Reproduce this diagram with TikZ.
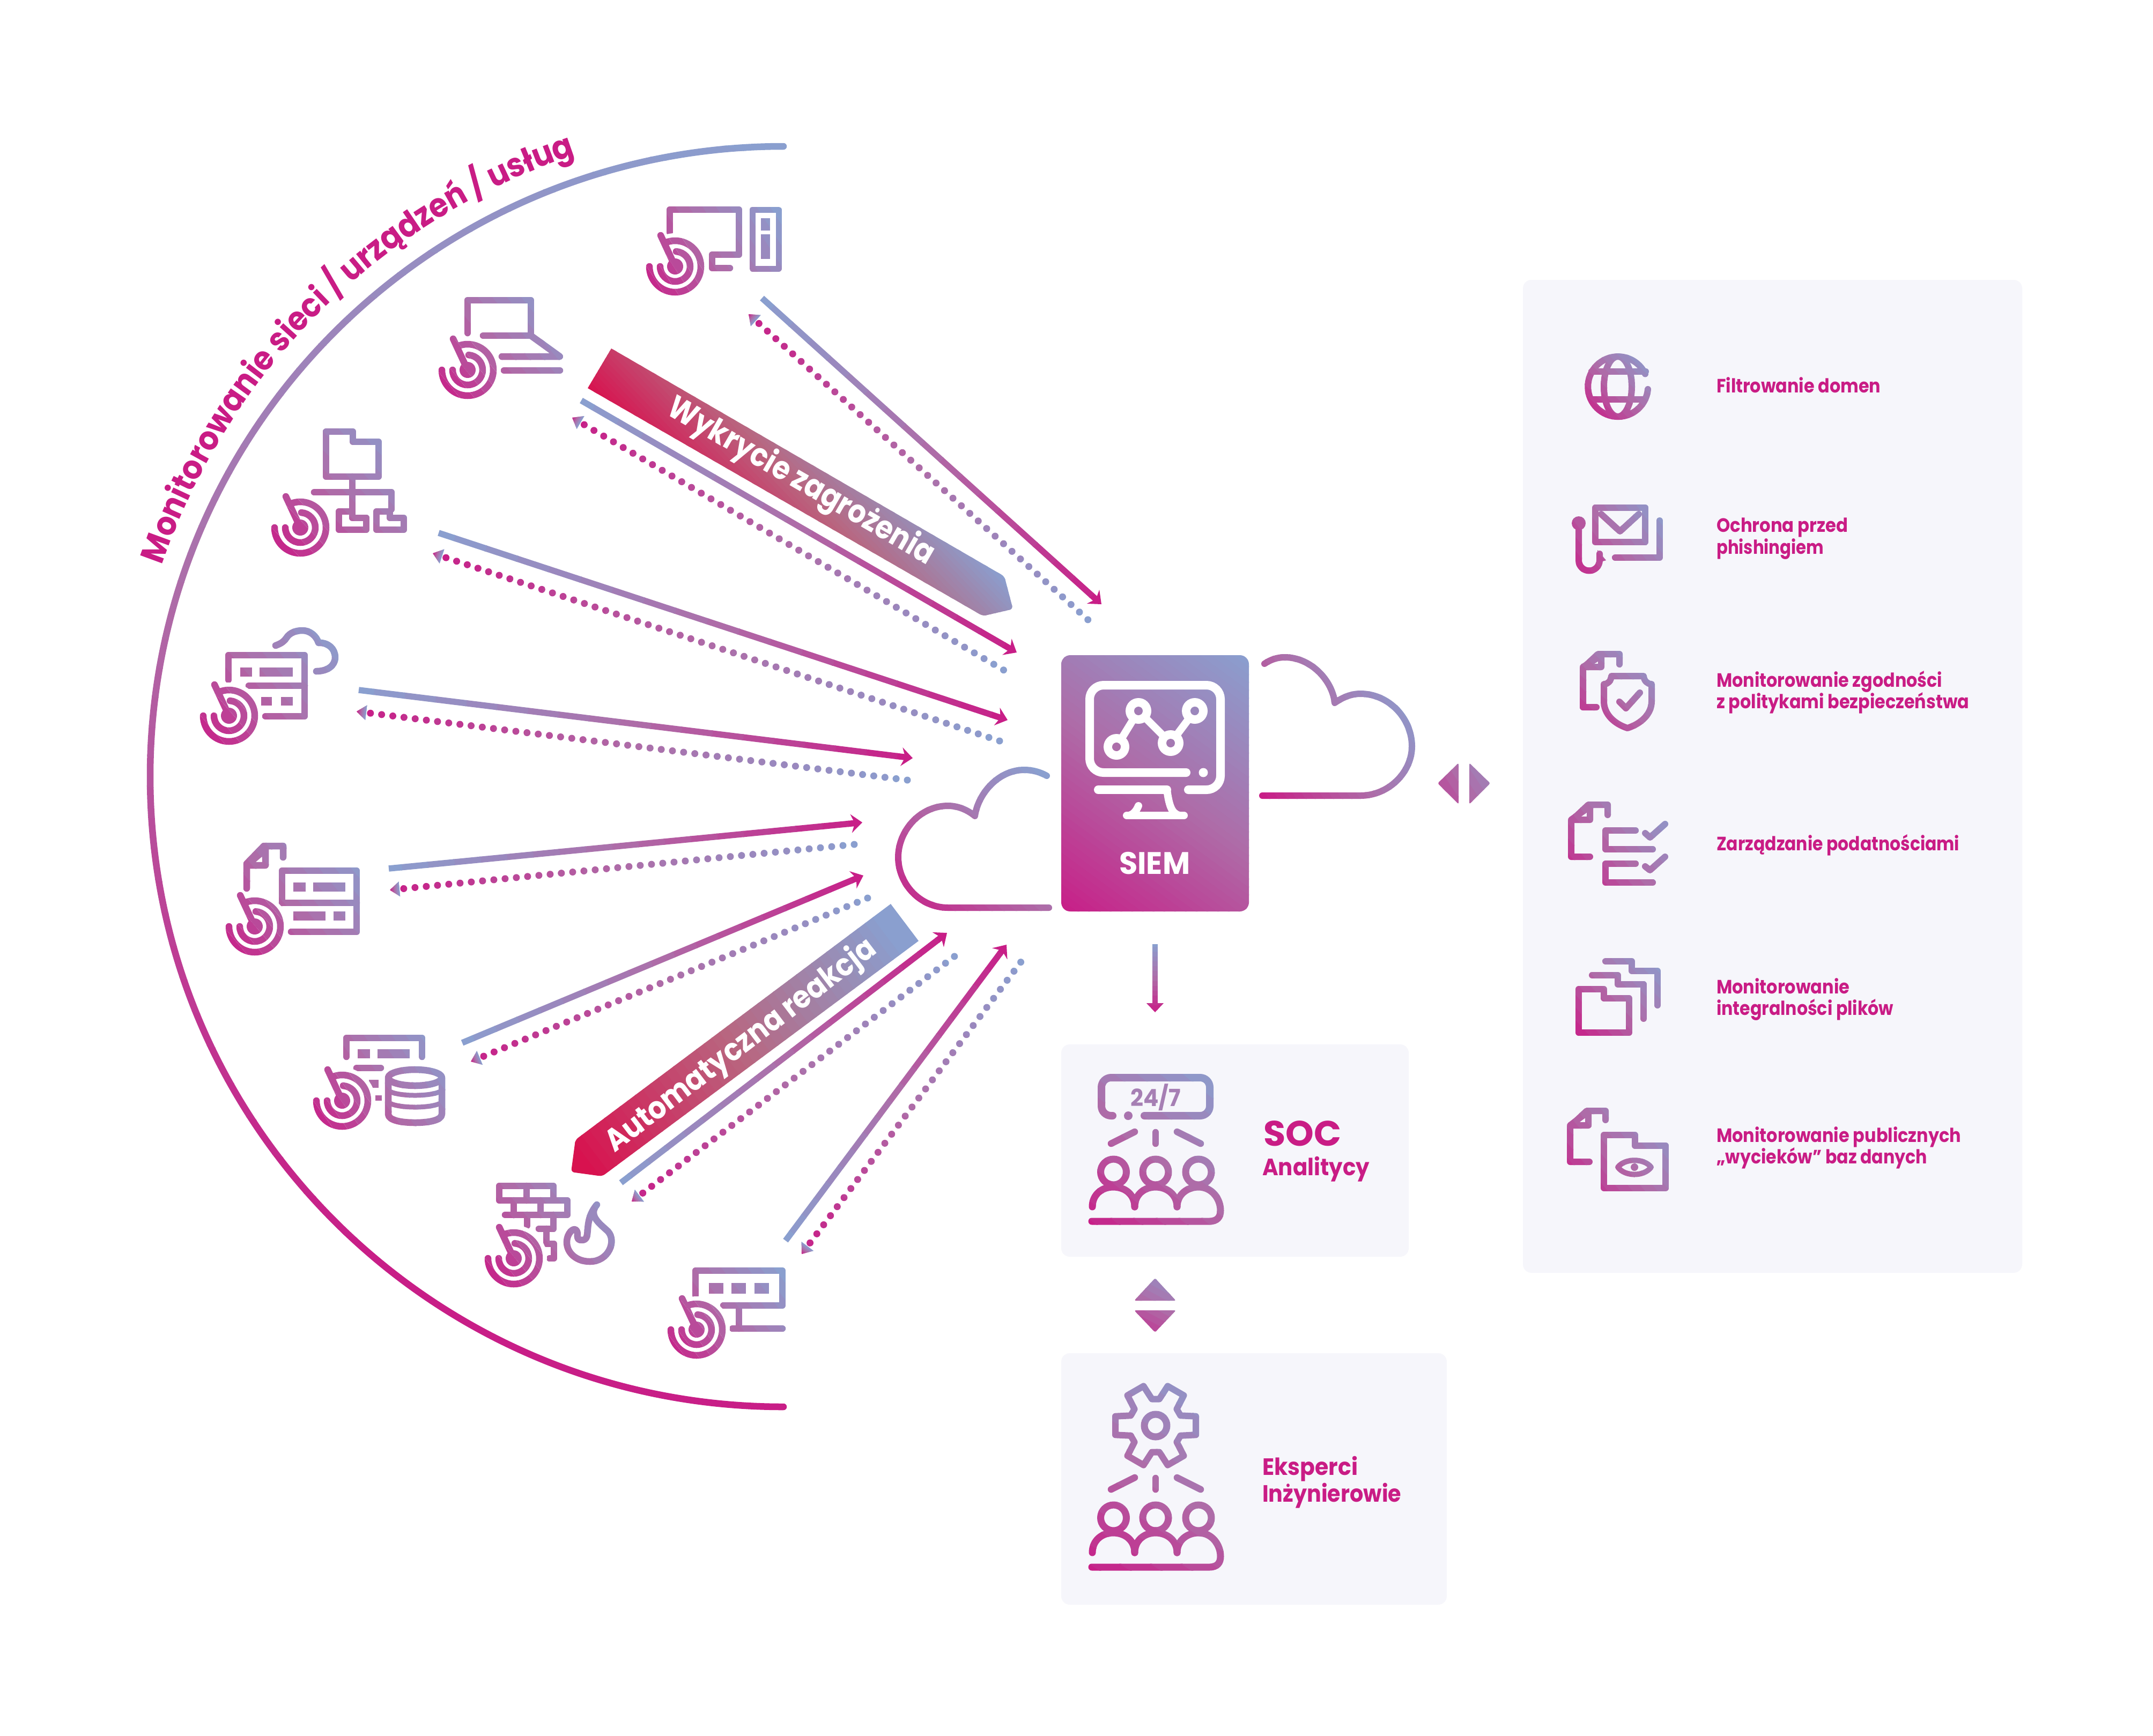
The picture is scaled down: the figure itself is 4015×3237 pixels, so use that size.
\documentclass[tikz,border=0pt]{standalone}
\usepackage{fontspec}
\usepackage{graphicx}
\usetikzlibrary{decorations.text,calc}
\setmainfont{Poppins}
\newfontfamily\arcf[FakeStretch=0.92]{Poppins}
\definecolor{gmag}{HTML}{C81E87}
\definecolor{gmid}{HTML}{AE6CA8}
\definecolor{gblu}{HTML}{8A9FCF}
\definecolor{crim}{HTML}{D8124F}
\definecolor{cmid}{HTML}{B86680}
\definecolor{labc}{HTML}{C91C85}
\definecolor{panelc}{HTML}{F6F6FB}
\definecolor{midc}{HTML}{A67FB4}
\colorlet{gA}{gmag}
\colorlet{gM}{gmid}
\colorlet{gB}{gblu}
\colorlet{gc}{gmag}
\tikzset{
  ic/.style={draw=gc,line width=12.5pt,line cap=round,line join=round},
  ir/.style={draw=gc,line width=12pt,line cap=round,line join=round},
  panelbox/.style={fill=panelc,rounded corners=16pt}
}
% gradient-painted drawing: colour goes gA - gM - gB from #1 to #2 in #3 steps
\newcommand\gradrun[4]{%
  \pgfpointdiff{\pgfpointanchor{#1}{center}}{\pgfpointanchor{#2}{center}}%
  \pgfgetlastxy{\gx}{\gy}%
  \pgfmathsetmacro\gang{atan2(\gy/10,\gx/10)}%
  \pgfmathsetmacro\glen{10*veclen(\gx/10,\gy/10)}%
  \pgfmathsetmacro\gstep{\glen/#3}%
  \foreach \gi in {0,...,#3}{%
    \pgfmathsetmacro\gpct{100*\gi/#3}%
    \pgfmathsetmacro\gpa{min(100,2*\gpct)}%
    \pgfmathsetmacro\gpb{max(0,2*\gpct-100)}%
    \colorlet{gc}{gB!\gpb!gM}%
    \colorlet{gc}{gc!\gpa!gA}%
    \pgfmathsetmacro\gdA{\gi==0?-5000:\gstep*(\gi-0.5)}%
    \pgfmathsetmacro\gdB{\gi==#3?5000:\gstep*(\gi+0.5)+2}%
    \begin{scope}
      \clip[shift={(#1)},rotate=\gang] (\gdA pt,-5000pt) rectangle (\gdB pt,5000pt);
      #4
    \end{scope}
  }%
}
\newcommand\icon[6]{%
  \coordinate (#1-a) at (#2,#3);
  \coordinate (#1-b) at (#4,#5);
  \gradrun{#1-a}{#1-b}{14}{#6}%
}
\newcommand\sarrow[5]{%
  \coordinate (s#1-s) at (#2,#3);
  \coordinate (s#1-t) at (#4,#5);
  \gradrun{s#1-t}{s#1-s}{18}{%
    \draw[draw=gc,line width=11.5pt,shorten <=12pt] (s#1-t) -- (s#1-s);
    \begin{scope}[shift={(s#1-t)},rotate=\gang]
      \fill[gc] (0pt,0pt) -- (21pt,17.5pt) -- (14pt,0pt) -- (21pt,-17.5pt) -- cycle;
    \end{scope}}%
}
\newcommand\darrow[5]{%
  \coordinate (d#1-h) at (#2,#3);
  \coordinate (d#1-e) at (#4,#5);
  \coordinate (d#1-b) at ($(d#1-h)!18pt!(d#1-e)$);
  \pgfpointdiff{\pgfpointanchor{d#1-h}{center}}{\pgfpointanchor{d#1-e}{center}}%
  \pgfgetlastxy{\dx}{\dy}%
  \pgfmathsetmacro\dlen{10*veclen(\dx/10,\dy/10)-26}%
  \pgfmathsetmacro\doff{\dlen/round(\dlen/21)}%
  \gradrun{d#1-h}{d#1-e}{18}{%
    \draw[draw=gc,line width=13pt,line cap=round,dash pattern=on 0pt off \doff pt,shorten <=26pt] (d#1-h) -- ($(d#1-e)!-1pt!(d#1-h)$);}%
  \gradrun{d#1-h}{d#1-b}{6}{%
    \begin{scope}[shift={(d#1-h)},rotate=\gang]
      \fill[gc] (0pt,0pt) -- (18pt,14pt) -- (18pt,-14pt) -- cycle;
    \end{scope}}%
}
% radar target
\newcommand\targ[2]{%
  \fill[white] (#1,#2) circle (62);
  \begin{scope}[shift={(#1,#2)}]
    \draw[ic] (180:48) arc[start angle=180,end angle=-108,radius=48];
    \draw[ic] (180:28) arc[start angle=180,end angle=-86,radius=28];
    \draw[ic] (0,0) -- (-27,-58);
    \fill[gc] (0,0) circle (15);
  \end{scope}%
}
% name, x, baseline y, width, size, colour, text
\newcommand\lab[7]{%
  \node[anchor=base west,inner sep=0pt,text=#6] (#1) at (#2,#3)
    {\fontsize{#5}{#5}\selectfont\bfseries\resizebox{#4pt}{\height}{#7}};%
}
\newcommand\peoplefig{%
  \draw[ic] (2072,2133) -- (2116,2111);
  \draw[ic] (2155,2112) -- (2155,2133);
  \draw[ic] (2195,2111) -- (2239,2133);
  \draw[ic,line width=13pt] (2076.5,2186) circle (24);
  \draw[ic,line width=13pt] (2155,2186) circle (24);
  \draw[ic,line width=13pt] (2235,2186) circle (24);
  \draw[ic,line width=13pt] (2037,2251) .. controls (2037,2228) and (2055,2214) .. (2076,2214)
     .. controls (2098,2214) and (2116,2228) .. (2116,2251);
  \draw[ic,line width=13pt] (2116,2251) .. controls (2116,2228) and (2134,2214) .. (2155,2214)
     .. controls (2176,2214) and (2195,2228) .. (2195,2251);
  \draw[ic,line width=13pt] (2195,2251) .. controls (2195,2228) and (2214,2214) .. (2235,2214)
     .. controls (2260,2214) and (2276,2236) .. (2276,2258)
     .. controls (2276,2270) and (2270,2278) .. (2255,2278) -- (2036,2278);
}
\begin{document}
\begin{tikzpicture}[x=1pt,y=-1pt]
\useasboundingbox (0,0) rectangle (4015,3237);
\fill[white] (0,0) rectangle (4015,3237);

% big arc
\coordinate (arc-a) at (900,2400);
\coordinate (arc-b) at (1461,273);
\gradrun{arc-a}{arc-b}{40}{\draw[draw=gc,line width=12.5pt,line cap=round] (1461,273) arc[start angle=-90,end angle=-270,x radius=1181,y radius=1175.5];}
\path[decorate,decoration={text along path,text align=left,
  text={|\arcf\fontsize{62}{62}\selectfont\bfseries\color{labc}|Monitorowanie sieci / urządzeń / usług}}]
  plot[smooth,samples=70,domain=198.8:265,variable=\a] ({1459+1222*cos(\a)},{1448+1222*sin(\a)});

% banners
\begin{scope}
\colorlet{gA}{crim}
\colorlet{gM}{cmid}
\coordinate (ban1-a) at (1096,724);
\coordinate (ban1-b) at (1328,503);
\gradrun{ban1-a}{ban1-b}{40}{\fill[gc] (1096,724) -- (1140,650) [rounded corners=6pt] -- (1873,1075) -- (1889,1136) -- (1833,1149) [sharp corners] -- cycle;}
\coordinate (ban2-a) at (1090,2170);
\coordinate (ban2-b) at (1660,1740);
\gradrun{ban2-a}{ban2-b}{40}{\fill[gc] (1661,1686) -- (1713,1755) [rounded corners=6pt] -- (1123,2194) -- (1065,2186) -- (1073,2126) [sharp corners] -- cycle;}
\end{scope}
\node[rotate=-30,inner sep=0pt,text=white] (wyk) at (1493,899) {\fontsize{60}{60}\selectfont\bfseries\resizebox{565pt}{\height}{Wykrycie zagrożenia}};
\node[rotate=37.3,inner sep=0pt,text=white] (aut) at (1383,1951) {\fontsize{58}{58}\selectfont\bfseries\resizebox{618pt}{\height}{Automatyczna reakcja}};

% arrows
\sarrow{1}{1421}{556}{2054}{1127}
\sarrow{2}{1084}{747}{1896}{1217}
\sarrow{3}{818}{994}{1879}{1343}
\sarrow{4}{669}{1287}{1702}{1414}
\sarrow{5}{725}{1620}{1608}{1534}
\sarrow{6}{862}{1945}{1610}{1633}
\sarrow{7}{1158}{2206}{1766}{1740}
\sarrow{8}{1465}{2314}{1877}{1762}
\darrow{1}{1396}{586}{2030}{1157}
\darrow{2}{1067}{779}{1872}{1250}
\darrow{3}{807}{1032}{1864}{1382}
\darrow{4}{665}{1327}{1692}{1455}
\darrow{5}{727}{1660}{1593}{1575}
\darrow{6}{878}{1980}{1618}{1675}
\darrow{7}{1178}{2241}{1781}{1783}
\darrow{8}{1495}{2339}{1904}{1794}

% clouds
\coordinate (cr-a) at (2354,1484);
\coordinate (cr-b) at (2633,1294);
\gradrun{cr-a}{cr-b}{24}{\draw[ir] (2358,1238) .. controls (2370,1230) and (2382,1226) .. (2396,1226) .. controls (2445,1226) and (2485,1270) .. (2489,1311) .. controls (2502,1302) and (2518,1294) .. (2537,1294) .. controls (2590,1294) and (2633,1340) .. (2633,1392) .. controls (2633,1440) and (2590,1484) .. (2537,1484) -- (2354,1484);}
\coordinate (cl-a) at (1700,1720);
\coordinate (cl-b) at (1950,1447);
\gradrun{cl-a}{cl-b}{24}{\draw[ir] (1952,1447) .. controls (1940,1440) and (1925,1436) .. (1910,1436) .. controls (1862,1436) and (1824,1480) .. (1818,1522) .. controls (1806,1512) and (1788,1503) .. (1768,1503) .. controls (1715,1503) and (1675,1550) .. (1675,1599) .. controls (1675,1648) and (1715,1693) .. (1768,1693) -- (1956,1693);}

% SIEM
\coordinate (siem-a) at (1979,1700);
\coordinate (siem-b) at (2329,1222);
\gradrun{siem-a}{siem-b}{50}{\fill[gc,rounded corners=17pt] (1979,1222) rectangle (2329,1700);}
\begin{scope}[line cap=round,line join=round,draw=white]
  \draw[line width=16pt,rounded corners=26pt] (2212,1441) -- (2032,1441) -- (2032,1278) -- (2276,1278) -- (2276,1473) -- (2216,1473);
  \draw[line width=16pt] (2048,1473) -- (2176,1473);
  \fill[white] (2244,1441) circle (8.5);
  \draw[line width=14pt] (2176,1473) .. controls (2180,1500) and (2184,1518) .. (2200,1521);
  \draw[line width=14pt] (2101,1521) -- (2208,1521);
  \draw[line width=14pt] (2123,1503) .. controls (2118,1515) and (2112,1519) .. (2106,1521);
  \draw[line width=14pt] (2082,1393) -- (2123,1326) -- (2183,1386) -- (2228,1326);
  \foreach \cx/\cy in {2082/1393,2123/1326,2183/1386,2228/1326}{
    \fill[white] (\cx,\cy) circle (24);
  }
\end{scope}
\coordinate (sm-a) at (1979,1700);
\coordinate (sm-b) at (2329,1222);
\gradrun{sm-a}{sm-b}{50}{%
  \fill[gc] (2082,1393) circle (8);
  \fill[gc] (2123,1326) circle (8);
  \fill[gc] (2183,1386) circle (8);
  \fill[gc] (2228,1326) circle (8);}
\lab{siemt}{2087}{1630}{132}{58}{white}{SIEM}

% double arrow right of the cloud
\coordinate (dr-a) at (2640,1520);
\coordinate (dr-b) at (2820,1400);
\gradrun{dr-a}{dr-b}{14}{%
  \fill[gc,rounded corners=3pt] (2720,1423) -- (2681,1461) -- (2720,1500) -- cycle;
  \fill[gc,rounded corners=3pt] (2740,1423) -- (2779,1461) -- (2740,1500) -- cycle;}
% arrow down
\coordinate (da-s) at (2154,1761);
\coordinate (da-t) at (2154,1888);
\gradrun{da-t}{da-s}{14}{%
  \draw[draw=gc,line width=10pt] (2154,1873) -- (2154,1761);
  \fill[gc] (2154,1888) -- (2138,1871) -- (2170,1871) -- cycle;}

% panels
\fill[panelbox] (1979,1948) rectangle (2627,2344);
\fill[panelbox] (1979,2524) rectangle (2698,2993);
\fill[panelbox] (2840,522) rectangle (3771,2374);

% up / down
\coordinate (ud-a) at (2115,2510);
\coordinate (ud-b) at (2195,2360);
\gradrun{ud-a}{ud-b}{14}{%
  \fill[gc,rounded corners=3pt] (2154,2384) -- (2193,2426) -- (2115,2426) -- cycle;
  \fill[gc,rounded corners=3pt] (2154,2485) -- (2193,2444) -- (2115,2444) -- cycle;}

% left icons
\icon{i1}{1204}{552}{1452}{391}{%
  \draw[ic] (1249,433) -- (1249,391) -- (1378,391) -- (1378,475) -- (1328,475) -- (1328,500) -- (1361,500);
  \draw[ic,line width=11pt] (1403,391) rectangle (1452,501);
  \fill[gc] (1419,407) rectangle (1436,430);
  \fill[gc] (1419,437) rectangle (1436,483);
  \targ{1259}{497}}
\icon{i2}{820}{745}{1044}{560}{%
  \draw[ic] (872,621) -- (872,560) -- (990,560) -- (990,626) -- (901,626);
  \draw[ic] (990,626) -- (1044,665) -- (936,665);
  \draw[ic] (940,691) -- (1044,691);
  \targ{872}{690}}
\icon{i3}{508}{1038}{753}{805}{%
  \draw[ic] (608,805) -- (658,805) -- (658,824) -- (706,824) -- (706,889) -- (608,889) -- cycle;
  \draw[ic] (657,889) -- (657,965);
  \draw[ic] (586,918) -- (730,918) -- (730,950);
  \draw[ic] (632,954) -- (657,954) -- (657,966) -- (683,966) -- (683,988) -- (632,988) -- cycle;
  \draw[ic] (702,954) -- (727,954) -- (727,966) -- (753,966) -- (753,988) -- (702,988) -- cycle;
  \targ{560}{984}}
\icon{i4}{375}{1390}{625}{1176}{%
  \draw[ic] (426,1268) -- (426,1222) -- (568,1222) -- (568,1336) -- (495,1336);
  \draw[ic] (464,1279) -- (568,1279);
  \fill[gc] (448,1245) rectangle (470,1262);
  \fill[gc] (484,1245) rectangle (546,1262);
  \fill[gc] (487,1300) rectangle (507,1316);
  \fill[gc] (524,1300) rectangle (546,1316);
  \draw[ic] (514,1204) .. controls (525,1200) and (530,1196) .. (534,1190) .. controls (540,1180) and (552,1176) .. (564,1176) .. controls (578,1176) and (590,1186) .. (594,1199) .. controls (612,1198) and (625,1210) .. (625,1226) .. controls (625,1242) and (610,1252) .. (590,1252);
  \targ{427}{1335}}
\icon{i5}{420}{1785}{665}{1578}{%
  \draw[ic] (460,1657) -- (460,1611) -- (492,1578) -- (528,1578) -- (528,1599);
  \draw[ic] (460,1614) -- (495,1614) -- (495,1584) -- cycle;
  \draw[ic] (526,1684) -- (526,1624) -- (665,1624) -- (665,1738) -- (543,1738);
  \draw[ic] (526,1684) -- (665,1684);
  \fill[gc] (547,1646) rectangle (570,1663);
  \fill[gc] (584,1646) rectangle (644,1663);
  \fill[gc] (547,1700) rectangle (607,1717);
  \fill[gc] (622,1700) rectangle (644,1717);
  \targ{475}{1728}}
\icon{i6}{585}{2108}{825}{1936}{%
  \draw[ic] (646,1971) -- (646,1936) -- (787,1936) -- (787,1971);
  \fill[gc] (667,1957) rectangle (690,1974);
  \fill[gc] (704,1957) rectangle (764,1974);
  \draw[ic] (665,1992) -- (710,1992);
  \fill[gc] (688,2014) rectangle (706,2029);
  \fill[gc] (700,2043) rectangle (712,2053);
  \draw[ic] (774,2010) ellipse (50 and 15);
  \draw[ic] (724,2010) -- (724,2078) .. controls (724,2090) and (750,2094) .. (774,2094) .. controls (798,2094) and (824,2090) .. (824,2078) -- (824,2010);
  \draw[ic,line width=9pt] (724,2034) .. controls (740,2046) and (808,2046) .. (824,2034);
  \draw[ic,line width=9pt] (724,2056) .. controls (740,2068) and (808,2068) .. (824,2056);
  \targ{638}{2053}}
\icon{i7}{905}{2400}{1144}{2206}{%
  \draw[ic] (931,2212) rectangle (1032,2239);
  \draw[ic] (982,2212) -- (982,2239);
  \draw[ic] (1032,2239) -- (1058,2239) -- (1058,2266) -- (942,2266);
  \draw[ic] (958,2239) -- (958,2266);
  \draw[ic] (1008,2239) -- (1008,2266);
  \draw[ic] (983,2266) -- (983,2286);
  \draw[ic] (1032,2266) -- (1032,2292) -- (1005,2292);
  \draw[ic] (1019,2292) -- (1019,2320) -- (1033,2320) -- (1033,2347) -- (1025,2347);
  \draw[ic] (1113,2247) .. controls (1095,2268) and (1122,2285) .. (1134,2297) .. controls (1150,2315) and (1135,2353) .. (1100,2353) .. controls (1075,2353) and (1057,2337) .. (1057,2317) .. controls (1057,2300) and (1070,2288) .. (1075,2295) .. controls (1080,2302) and (1072,2313) .. (1085,2313) .. controls (1105,2313) and (1085,2280) .. (1113,2247) -- cycle;
  \targ{958}{2347}}
\icon{i8}{1245}{2535}{1459}{2370}{%
  \draw[ic] (1297,2416) -- (1297,2370) -- (1459,2370) -- (1459,2435) -- (1349,2435);
  \fill[gc] (1322,2393) rectangle (1349,2413);
  \fill[gc] (1364,2393) rectangle (1391,2413);
  \fill[gc] (1407,2393) rectangle (1434,2413);
  \draw[ic] (1378,2435) -- (1378,2478);
  \draw[ic] (1366,2478) -- (1459,2478);
  \targ{1299}{2480}}

% SOC icon
\icon{soc}{2030}{2290}{2265}{2000}{%
  \draw[ic,line width=14pt,rounded corners=18pt] (2075,2081) -- (2054,2081) -- (2054,2010) -- (2256,2010) -- (2256,2081) -- (2134,2081);
  \fill[gc] (2104,2081) circle (8);
  \peoplefig}
\node[inner sep=0pt,text=midc] (n247) at (2155,2047) {\fontsize{44}{44}\selectfont\bfseries\resizebox{94pt}{\height}{24/7}};
% Engineers icon
\icon{eng}{2030}{2935}{2265}{2570}{%
  \begin{scope}[shift={(2155,2659)}]
    \draw[ic,line width=12pt] (-13:77) \foreach \k in {0,60,...,300} { -- ({\k-13}:77) -- ({\k+13}:77) -- ({\k+22}:50) -- ({\k+38}:50)} -- cycle;
    \draw[ic,line width=13pt] (0,0) circle (21);
  \end{scope}
  \begin{scope}[shift={(0,645)}]
    \peoplefig
  \end{scope}}

\lab{soct}{2356}{2137}{145}{66}{labc}{SOC}
\lab{ana}{2354}{2192}{200}{44}{labc}{Analitycy}
\lab{eks}{2354}{2751}{178}{44}{labc}{Eksperci}
\lab{inz}{2354}{2801}{259}{44}{labc}{Inżynierowie}

% right icons
\icon{r1}{2960}{780}{3075}{660}{%
  \draw[ir] (3073,726) arc[start angle=5,end angle=335,radius=56];
  \draw[ir] (3017,721) ellipse (26 and 56);
  \draw[ir] (2968,693) -- (3069,693);
  \draw[ir] (2968,745) -- (3066,745);}
\icon{r2}{2925}{1075}{3100}{941}{%
  \draw[ir] (2975,947) rectangle (3068,1011);
  \draw[ir] (2986,959) -- (3021,991) -- (3056,959);
  \draw[ir] (3095,971) -- (3095,1040) -- (3012,1040);
  \fill[gc] (2944,976) circle (13);
  \draw[ir] (2944,976) -- (2944,1045) arc[start angle=180,end angle=0,radius=19.5] -- (2983,1033);
  \fill[gc] (2979,1026) -- (2995,1045) -- (2979,1050) -- cycle;}
\icon{r3}{2940}{1370}{3090}{1215}{%
  \draw[ir] (2977,1319) -- (2952,1319) -- (2952,1246) -- (2980,1220) -- (3020,1220) -- (3020,1239);
  \draw[ir] (2952,1244) -- (2986,1244) -- (2986,1223) -- cycle;
  \draw[ir] (3005,1261) -- (3065,1261) .. controls (3066,1270) and (3072,1276) .. (3080,1276) -- (3080,1308) .. controls (3080,1332) and (3060,1350) .. (3035,1358) .. controls (3010,1350) and (2991,1332) .. (2991,1308) -- (2991,1276) .. controls (2999,1276) and (3004,1270) .. (3005,1261) -- cycle;
  \draw[ir] (3020,1309) -- (3032,1321) -- (3058,1292);}
\icon{r4}{2920}{1655}{3110}{1495}{%
  \draw[ir] (2965,1598) -- (2930,1598) -- (2930,1531) -- (2962,1501) -- (2998,1501) -- (2998,1520);
  \draw[ir] (2930,1529) -- (2965,1529) -- (2965,1504) -- cycle;
  \draw[ir] (3050,1549) -- (2994,1549) -- (2994,1584) -- (3082,1584);
  \draw[ir] (3068,1554) -- (3077,1562) -- (3105,1537);
  \draw[ir] (3050,1611) -- (2994,1611) -- (2994,1646) -- (3082,1646);
  \draw[ir] (3068,1616) -- (3077,1623) -- (3105,1598);}
\icon{r5}{2935}{1935}{3100}{1785}{%
  \draw[ir] (2944,1845) -- (2991,1845) -- (2991,1862) -- (3038,1862) -- (3038,1926) -- (2944,1926) -- cycle;
  \draw[ir] (2969,1819) -- (3017,1819) -- (3017,1836) -- (3065,1836) -- (3065,1900);
  \draw[ir] (2994,1793) -- (3043,1793) -- (3043,1811) -- (3091,1811) -- (3091,1875);}
\icon{r6}{2920}{2225}{3110}{2065}{%
  \draw[ir] (2964,2167) -- (2928,2167) -- (2928,2101) -- (2959,2072) -- (2994,2072) -- (2994,2089);
  \draw[ir] (2928,2099) -- (2962,2099) -- (2962,2073) -- cycle;
  \draw[ir] (2991,2117) -- (3049,2117) -- (3049,2137) -- (3106,2137) -- (3106,2216) -- (2991,2216) -- cycle;
  \draw[ir,line width=10pt] (3017,2177) .. controls (3030,2160) and (3066,2160) .. (3079,2177) .. controls (3066,2195) and (3030,2195) .. (3017,2177) -- cycle;
  \fill[gc] (3048,2177) circle (7);}

\lab{t1}{3201}{732}{306}{36}{labc}{Filtrowanie domen}
\lab{t2a}{3201}{992}{245}{36}{labc}{Ochrona przed}
\lab{t2b}{3201}{1033}{200}{36}{labc}{phishingiem}
\lab{t3a}{3201}{1281}{421}{36}{labc}{Monitorowanie zgodności}
\lab{t3b}{3201}{1321}{471}{36}{labc}{z politykami bezpieczeństwa}
\lab{t4}{3201}{1586}{453}{36}{labc}{Zarządzanie podatnościami}
\lab{t5a}{3201}{1853}{248}{36}{labc}{Monitorowanie}
\lab{t5b}{3201}{1893}{330}{36}{labc}{integralności plików}
\lab{t6a}{3201}{2130}{456}{36}{labc}{Monitorowanie publicznych}
\lab{t6b}{3201}{2170}{393}{36}{labc}{„wycieków” baz danych}
\end{tikzpicture}
\end{document}
